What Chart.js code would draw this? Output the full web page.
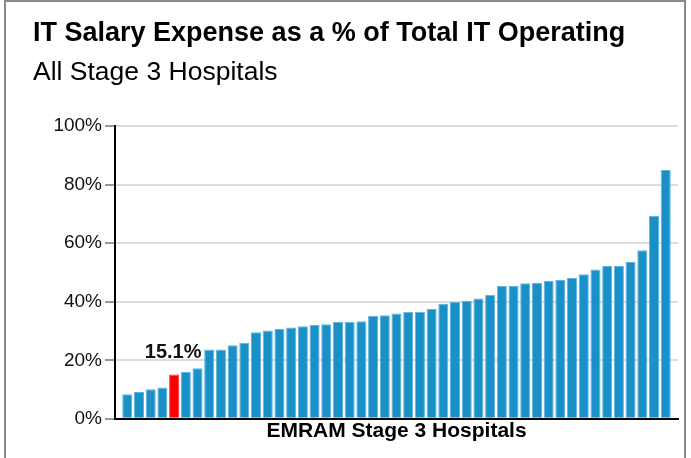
<!DOCTYPE html>
<html>
<head>
<meta charset="utf-8">
<script src="https://cdn.jsdelivr.net/npm/chart.js@4.4.1/dist/chart.umd.min.js"></script>
<style>
  html, body { margin: 0; padding: 0; background: #fff; }
  #wrap { position: relative; width: 691px; height: 458px; overflow: hidden; }
  #frame {
    position: absolute; left: 4px; top: 0; width: 678px; height: 470px;
    border: 2px solid #8a8a8a; pointer-events: none;
  }
</style>
</head>
<body>
<div id="wrap">
  <canvas id="salaryChart" width="691" height="458"></canvas>
  <div id="frame"></div>
</div>
<script>
// IT salary expense share per hospital, sorted ascending
const salaryPct = [
  8.4, 9.2, 10.1, 10.7, 15.1, 16.0, 17.3, 23.7, 23.7, 25.1,
  26.0, 29.6, 30.2, 30.7, 31.2, 31.6, 32.1, 32.3, 33.1, 33.1,
  33.3, 35.2, 35.4, 36.0, 36.6, 36.6, 37.5, 39.3, 40.0, 40.3,
  41.1, 42.4, 45.5, 45.5, 46.3, 46.5, 47.2, 47.4, 48.1, 49.4,
  51.0, 52.2, 52.2, 53.6, 57.6, 69.4, 85.0
];
const hospitalRank = salaryPct.map((_, i) => i + 1);
const yTicks = [0, 20, 40, 60, 80, 100];
const highlightIndex = 4;

const titleText = "IT Salary Expense as a % of Total IT Operating";
const subtitleText = "All Stage 3 Hospitals";
const xAxisTitle = "EMRAM Stage 3 Hospitals";

const FONT = "'Liberation Sans', Arial, Helvetica, sans-serif";
const BLUE = "#1a90c8";
const RED = "#ff0000";

// draws the value above the highlighted bar
const highlightLabel = {
  id: "highlightLabel",
  afterDatasetsDraw(chart) {
    const bar = chart.getDatasetMeta(0).data[highlightIndex];
    if (!bar) return;
    const ctx = chart.ctx;
    ctx.save();
    ctx.font = "bold 20px " + FONT;
    ctx.fillStyle = "#111";
    ctx.textAlign = "center";
    ctx.textBaseline = "alphabetic";
    ctx.fillText(salaryPct[highlightIndex].toFixed(1) + "%", bar.x - 1, bar.y - 17);
    ctx.restore();
  }
};

new Chart(document.getElementById("salaryChart").getContext("2d"), {
  type: "bar",
  data: {
    datasets: [{
      data: hospitalRank.map((x, i) => ({ x: x, y: salaryPct[i] })),
      backgroundColor: (c) => c.dataIndex === highlightIndex ? RED : BLUE,
      borderColor: (c) => c.dataIndex === highlightIndex ? "#ff3b3b" : "#5fb3dd",
      borderWidth: { top: 1, left: 1, right: 1, bottom: 0 },
      borderSkipped: "bottom",
      barPercentage: 0.86,
      categoryPercentage: 1.0
    }]
  },
  options: {
    responsive: false,
    animation: false,
    layout: { padding: { left: 33, right: 13, top: 0, bottom: 0 } },
    plugins: {
      legend: { display: false },
      tooltip: { enabled: false },
      title: {
        display: true,
        text: titleText,
        align: "start",
        color: "#000",
        font: { family: FONT, size: 27, weight: "bold", lineHeight: 1.2 },
        padding: { top: 17, bottom: 7 }
      },
      subtitle: {
        display: true,
        text: subtitleText,
        align: "start",
        color: "#000",
        font: { family: FONT, size: 26.5, weight: "normal", lineHeight: 1.2 },
        padding: { top: 0, bottom: 38 }
      }
    },
    scales: {
      x: {
        type: "linear",
        min: -0.05,
        max: 48.05,
        offset: false,
        grid: { display: false, drawTicks: false },
        ticks: { display: false },
        border: { display: true, color: "#000", width: 2 },
        title: {
          display: true,
          text: xAxisTitle,
          color: "#000",
          font: { family: FONT, size: 21, weight: "bold", lineHeight: 1.2 },
          padding: { top: 0, bottom: 14 }
        }
      },
      y: {
        min: 0,
        max: 100,
        afterBuildTicks: (scale) => { scale.ticks = yTicks.map(v => ({ value: v })); },
        afterFit: (scale) => { scale.width = 82; },
        grid: {
          color: "#dcdcdc",
          lineWidth: 2,
          drawTicks: true,
          tickLength: 10,
          tickColor: "#333",
          tickWidth: 1
        },
        border: { display: true, color: "#000", width: 2 },
        ticks: {
          padding: 3,
          color: "#111",
          font: { family: FONT, size: 19 },
          callback: (v) => v + "%"
        }
      }
    }
  },
  plugins: [highlightLabel]
});
</script>
</body>
</html>
